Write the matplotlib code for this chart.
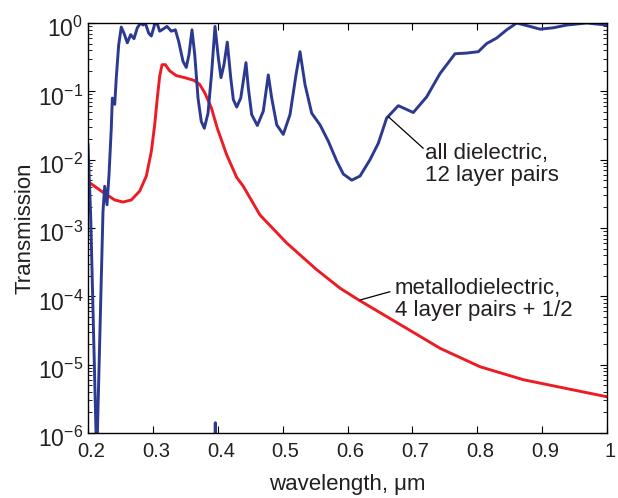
import matplotlib
matplotlib.use("Agg")
import matplotlib.pyplot as plt
import matplotlib.transforms as mtransforms
import numpy as np

plt.rcParams['font.family'] = ['Liberation Sans', 'DejaVu Sans']
plt.rcParams['mathtext.fontset'] = 'custom'
plt.rcParams['mathtext.rm'] = 'Liberation Sans'

# all dielectric, 12 layer pairs (wavelength um, log10 transmission)
blue_x = [0.2000, 0.2042, 0.2134, 0.2231, 0.2257, 0.2293, 0.2324, 0.2359, 0.2375, 0.2412,
          0.2436, 0.2473, 0.2513, 0.2555, 0.2606, 0.2658, 0.2709, 0.2760, 0.2812, 0.2848,
          0.2883, 0.2936, 0.2976, 0.3028, 0.3064, 0.3105, 0.3156, 0.3218, 0.3284, 0.3346,
          0.3398, 0.3464, 0.3515, 0.3557, 0.3603, 0.3645, 0.3696, 0.3746, 0.3793, 0.3850,
          0.3904, 0.3958, 0.4009, 0.4050, 0.4096, 0.4147, 0.4200, 0.4240, 0.4292, 0.4354,
          0.4394, 0.4435, 0.4471, 0.4523, 0.4610, 0.4702, 0.4779, 0.4832, 0.4909, 0.5010,
          0.5114, 0.5206, 0.5268, 0.5345, 0.5448, 0.5576, 0.5704, 0.5834, 0.5935, 0.6065,
          0.6193, 0.6347, 0.6475, 0.6604, 0.6783, 0.7014, 0.7221, 0.7323, 0.7426, 0.7657,
          0.7837, 0.8016, 0.8146, 0.8300, 0.8454, 0.8608, 0.8813, 0.8967, 0.9172, 0.9379,
          0.9687, 1.0000]
blue_logT = [-1.78, -2.85, -6.4, -2.76, -2.39, -2.66, -2.22, -1.54, -1.10, -1.19,
             -0.80, -0.32, -0.06, -0.15, -0.29, -0.17, -0.23, -0.07, 0.0, -0.03,
             0.0, -0.15, -0.19, -0.02, 0.0, -0.12, -0.09, -0.05, -0.12, -0.10,
             -0.27, -0.56, -0.65, -0.46, -0.10, -0.46, -1.10, -1.44, -1.54, -1.32,
             -0.75, -0.05, -0.51, -0.80, -0.61, -0.28, -0.80, -1.12, -1.23, -1.10,
             -0.85, -0.58, -0.95, -1.34, -1.50, -1.29, -0.76, -1.10, -1.49, -1.63,
             -1.34, -0.76, -0.42, -0.90, -1.32, -1.49, -1.73, -2.02, -2.21, -2.30,
             -2.24, -2.00, -1.76, -1.39, -1.21, -1.31, -1.08, -0.91, -0.74, -0.45,
             -0.44, -0.42, -0.30, -0.22, -0.10, 0.0, -0.05, -0.09, -0.07, -0.03,
             0.0, -0.03]

# small artefact of the dielectric curve at the bottom edge
spike_x = [0.3955, 0.3962, 0.3970]
spike_logT = [-6.5, -5.85, -6.5]

# metallodielectric, 4 layer pairs + 1/2
red_x = [0.2000, 0.2205, 0.2412, 0.2540, 0.2667, 0.2797, 0.2899, 0.2976, 0.3028, 0.3068,
         0.3105, 0.3141, 0.3192, 0.3259, 0.3361, 0.3491, 0.3634, 0.3722, 0.3799, 0.3901,
         0.3993, 0.4138, 0.4292, 0.4394, 0.4651, 0.5063, 0.5525, 0.5884, 0.6167, 0.6913,
         0.7426, 0.8042, 0.8710, 0.9379, 1.0000]
red_logT = [-2.32, -2.46, -2.59, -2.62, -2.59, -2.46, -2.24, -1.88, -1.49, -1.10,
            -0.78, -0.61, -0.61, -0.70, -0.77, -0.80, -0.84, -0.90, -1.02, -1.24,
            -1.54, -1.93, -2.26, -2.39, -2.81, -3.22, -3.61, -3.88, -4.05, -4.47,
            -4.76, -5.03, -5.22, -5.35, -5.47]

x_ticks = [0.2, 0.3, 0.4, 0.5, 0.6, 0.7, 0.8, 0.9, 1.0]
x_ticklabels = ['0.2', '0.3', '0.4', '0.5', '0.6', '0.7', '0.8', '0.9', '1']

blue_c = '#2B3990'
red_c = '#ED1C24'
txt_c = '#231F20'

fig = plt.figure(figsize=(6.18, 4.98), dpi=100)
ax = fig.add_axes([88/618, 1-433/498, (607-88)/618, (433-23)/498])

ax.semilogy(red_x, 10**np.array(red_logT), color=red_c, lw=2.1, solid_joinstyle='round')
ax.semilogy(blue_x, 10**np.array(blue_logT), color=blue_c, lw=2.1, solid_joinstyle='round')
ax.semilogy(spike_x, 10**np.array(spike_logT), color=blue_c, lw=2.1)

ax.set_xlim(0.2, 1.0)
ax.set_ylim(1e-6, 1.0)
ax.set_xticks(x_ticks)
ax.set_xticklabels(x_ticklabels)
ax.tick_params(which='both', direction='in', top=True, right=True, colors='k',
               labelcolor=txt_c)
ax.tick_params(which='major', length=5, width=0.8)
ax.tick_params(which='minor', length=3, width=0.6)
ax.tick_params(axis='x', labelsize=14.5, pad=6.5)
ax.tick_params(axis='y', labelsize=16.5, pad=3.5)
for s in ax.spines.values():
    s.set_linewidth(1.0)

ax.set_xlabel('wavelength, μm', fontsize=16, labelpad=9, color=txt_c)
ax.set_ylabel('Transmission', fontsize=16, labelpad=1.5, color=txt_c)

# shift tick labels slightly as in the reference layout
dx = mtransforms.ScaledTranslation(3/100, 0, fig.dpi_scale_trans)
dy = mtransforms.ScaledTranslation(0, -4/100, fig.dpi_scale_trans)
for lab in ax.get_xticklabels():
    lab.set_transform(lab.get_transform() + dx)
for lab in ax.get_yticklabels():
    lab.set_transform(lab.get_transform() + dy)

ax.annotate('', xy=(0.6629, 10**-1.371), xytext=(0.7168, 10**-1.834),
            arrowprops=dict(arrowstyle='-', color='k', lw=0.9, shrinkA=0, shrinkB=0))
ax.text(0.7195, 10**-1.756, 'all dielectric,\n12 layer pairs', fontsize=16,
        ha='left', va='top', linespacing=1.05, color=txt_c)

ax.annotate('', xy=(0.6193, 10**-4.054), xytext=(0.6655, 10**-3.932),
            arrowprops=dict(arrowstyle='-', color='k', lw=0.9, shrinkA=0, shrinkB=0))
ax.text(0.6732, 10**-3.736, 'metallodielectric,\n4 layer pairs + 1/2', fontsize=16,
        ha='left', va='top', linespacing=1.05, color=txt_c)

fig.savefig('out.png', dpi=100)
